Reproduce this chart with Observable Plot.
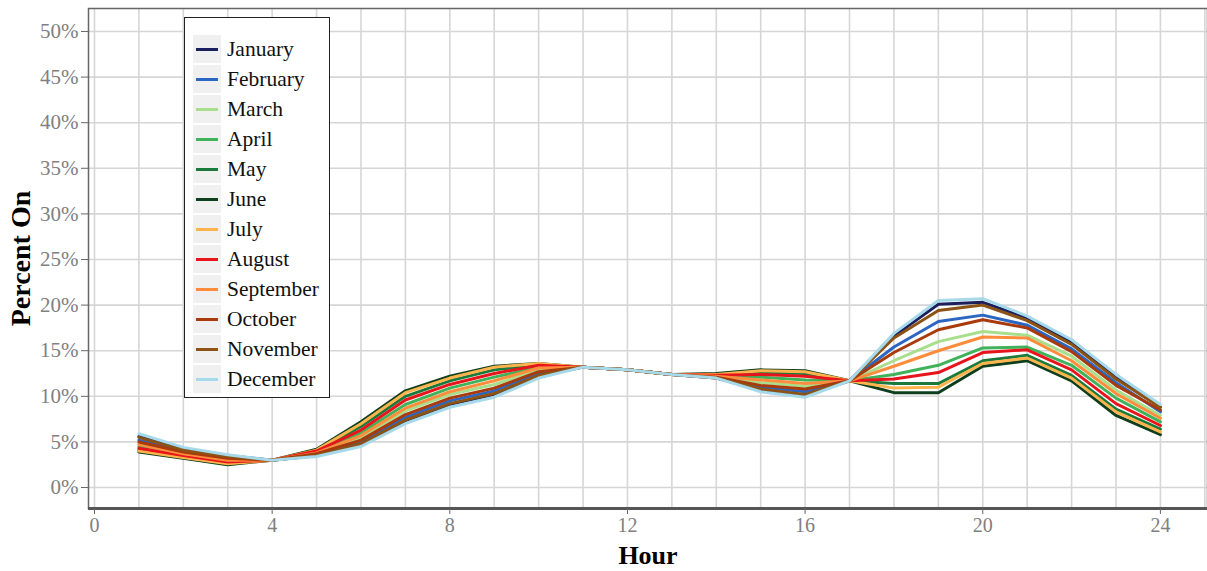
<!DOCTYPE html>
<html><head><meta charset="utf-8">
<script src="https://cdn.jsdelivr.net/npm/d3@7"></script>
<script src="https://cdn.jsdelivr.net/npm/@observablehq/plot@0.6"></script>
<style>
body{margin:0;background:#fff;}
#wrap{position:relative;width:1207px;height:571px;overflow:hidden;}
#legend{position:absolute;left:184px;top:17px;width:144px;height:379px;border:1.5px solid #222;background:#fff;font-family:"Liberation Serif",serif;}
.row{position:absolute;left:8px;height:28px;display:flex;align-items:center;}
.key{width:28px;height:28px;background:#f0f0f0;position:relative;flex:none;}
.key span{position:absolute;left:3px;right:3px;top:12.5px;height:3px;}
.lab{margin-left:6px;font-size:21.5px;color:#111;white-space:nowrap;}
</style></head><body><div id="wrap"></div>
<script>
const months = ["January","February","March","April","May","June","July","August","September","October","November","December"];
const colors = ["#1b1f5e","#2b66c2","#a8de8c","#3fb25a","#1a7a3c","#0d3f1c","#fdb44d","#e8141c","#fd8d3c","#a83a0c","#8c5314","#a6d9ea"];
const hours = [1,2,3,4,5,6,7,8,9,10,11,12,13,14,15,16,17,18,19,20,21,22,23,24];
const xTicks = [0,4,8,12,16,20,24];
const xGrid = [0,1,2,3,4,5,6,7,8,9,10,11,12,13,14,15,16,17,18,19,20,21,22,23,24,25];
const yTicks = [0,5,10,15,20,25,30,35,40,45,50];

const january   = [5.6,4.2,3.5,3.0,3.5,4.7,7.3,9.1,10.2,12.2,13.2,12.9,12.4,12.0,10.7,10.1,11.7,16.6,20.1,20.3,18.6,15.9,12.1,8.8];
const february  = [5.2,4.0,3.3,3.0,3.6,5.0,7.7,9.5,10.6,12.5,13.2,12.9,12.4,12.1,11.0,10.5,11.7,15.4,18.2,18.9,17.8,15.2,11.5,8.3];
const march     = [4.8,3.8,3.1,3.0,3.8,5.5,8.4,10.2,11.3,12.9,13.2,12.9,12.4,12.2,11.5,11.1,11.7,13.9,16.0,17.1,16.7,14.4,10.7,7.9];
const april     = [4.5,3.6,2.9,3.0,3.9,6.0,9.1,10.9,12.1,13.2,13.2,12.9,12.4,12.3,12.1,11.8,11.7,12.4,13.4,15.3,15.4,13.4,9.8,7.2];
const may       = [4.1,3.4,2.7,3.0,4.0,6.7,10.0,11.7,12.9,13.5,13.2,12.9,12.4,12.4,12.6,12.5,11.7,11.4,11.4,13.9,14.5,12.3,8.6,6.4];
const june      = [3.9,3.2,2.5,3.0,4.2,7.2,10.6,12.2,13.3,13.6,13.2,12.9,12.4,12.5,12.9,12.8,11.7,10.4,10.4,13.3,13.9,11.7,7.9,5.8];
const july      = [4.0,3.3,2.6,3.0,4.1,7.0,10.4,12.0,13.2,13.6,13.2,12.9,12.4,12.4,12.8,12.7,11.7,10.9,11.0,13.6,14.2,12.0,8.3,6.1];
const august    = [4.3,3.5,2.8,3.0,4.0,6.3,9.6,11.3,12.5,13.4,13.2,12.9,12.4,12.3,12.4,12.2,11.7,11.9,12.6,14.8,15.1,12.9,9.2,6.8];
const september = [4.7,3.7,3.0,3.0,3.8,5.7,8.7,10.5,11.7,13.1,13.2,12.9,12.4,12.2,11.8,11.4,11.7,13.3,15.0,16.5,16.4,13.9,10.3,7.6];
const october   = [5.0,3.9,3.2,3.0,3.7,5.2,8.0,9.8,10.9,12.7,13.2,12.9,12.4,12.1,11.2,10.8,11.7,14.8,17.3,18.4,17.5,14.9,11.2,8.5];
const november  = [5.5,4.1,3.4,3.0,3.5,4.8,7.4,9.2,10.3,12.3,13.2,12.9,12.4,12.0,10.8,10.2,11.7,16.4,19.4,20.0,18.3,15.7,11.9,8.8];
const december  = [5.9,4.4,3.6,3.0,3.4,4.5,7.0,8.8,9.9,12.0,13.2,12.9,12.4,12.0,10.5,9.9,11.7,16.9,20.5,20.7,18.8,16.2,12.4,9.1];

const series = [january,february,march,april,may,june,july,august,september,october,november,december];
const data = months.flatMap((m,i) => hours.map((h,j) => ({month:m, hour:h, value:series[i][j]})));

const plot = Plot.plot({
  width:1207, height:571,
  marginLeft:88, marginRight:0, marginTop:8, marginBottom:63,
  style:{fontFamily:"Liberation Serif", background:"#fff"},
  x:{domain:[-0.135,25.06], label:null},
  y:{domain:[-2.3,52.52], label:null},
  color:{domain:months, range:colors},
  marks:[
    Plot.gridX(xGrid,{stroke:"#d6d6d6", strokeOpacity:1, strokeWidth:1.6}),
    Plot.gridY(yTicks,{stroke:"#d6d6d6", strokeOpacity:1, strokeWidth:1.6}),
    Plot.line(data,{x:"hour", y:"value", z:"month", stroke:"month", strokeWidth:3, strokeLinejoin:"miter"}),
    Plot.frame({stroke:"#666", strokeWidth:1.5}),
    Plot.ruleY([-2.3],{stroke:"#555", strokeWidth:3}),
    Plot.axisX(xTicks,{tickSize:6, tickPadding:3, fontSize:20, fill:"#808080", stroke:"#666", label:null, tickFormat:d=>String(d)}),
    Plot.axisY(yTicks,{tickSize:7, tickPadding:3, fontSize:21, fill:"#808080", stroke:"#666", label:null, tickFormat:d=>d+"%"}),
    Plot.text(["Hour"],{frameAnchor:"bottom", dy:55, fontSize:26, fontWeight:"bold", fill:"#000"}),
    Plot.text(["Percent On"],{frameAnchor:"left", textAnchor:"middle", dx:-67, rotate:-90, fontSize:28, fontWeight:"bold", fill:"#000"})
  ]
});
const wrap = document.getElementById("wrap");
wrap.appendChild(plot);

const legend = document.createElement("div");
legend.id = "legend";
months.forEach((m,i) => {
  const row = document.createElement("div");
  row.className = "row";
  row.style.top = (17 + i*30) + "px";
  row.innerHTML = `<div class="key"><span style="background:${colors[i]}"></span></div><div class="lab">${m}</div>`;
  legend.appendChild(row);
});
wrap.appendChild(legend);
</script>
</body></html>
